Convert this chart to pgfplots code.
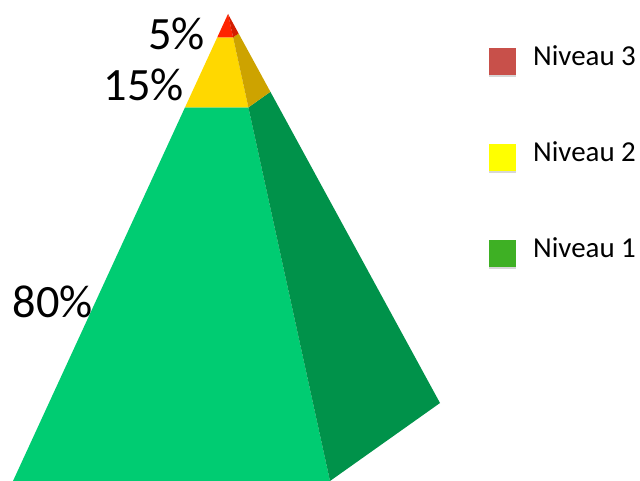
\documentclass[border=0pt]{standalone}
\usepackage{pgfplots}
\pgfplotsset{compat=1.18}
\usepackage{fontspec}
\setmainfont{Carlito}
\definecolor{gfront}{RGB}{0,204,114}
\definecolor{gside}{RGB}{0,146,74}
\definecolor{yfront}{RGB}{255,216,0}
\definecolor{yside}{RGB}{205,163,0}
\definecolor{rfront}{RGB}{255,36,0}
\definecolor{rside}{RGB}{212,30,0}
\definecolor{legr}{RGB}{200,80,74}
\definecolor{legy}{RGB}{255,255,0}
\definecolor{legg}{RGB}{62,176,36}
\definecolor{shad}{RGB}{215,215,215}
\begin{document}
\begin{tikzpicture}
\begin{axis}[x=1bp,y=1bp,xmin=0,xmax=640,ymin=0,ymax=481,y dir=reverse,
  hide axis,clip=false,scale only axis]
\path (axis cs:0,0) rectangle (axis cs:640,481);
% Niveau 1 (80%)
\addplot[fill=gfront,draw=none] coordinates {(185.00,107.40) (13,481) (330,481) (248.40,107.40)} -- cycle;
\addplot[fill=gside,draw=none] coordinates {(248.40,107.40) (330,481) (440,403) (270.40,91.80)} -- cycle;
% Niveau 2 (15%)
\addplot[fill=yfront,draw=none] coordinates {(217.25,37.35) (185.00,107.40) (248.40,107.40) (233.10,37.35)} -- cycle;
\addplot[fill=yside,draw=none] coordinates {(233.10,37.35) (248.40,107.40) (270.40,91.80) (238.60,33.45)} -- cycle;
% Niveau 3 (5%)
\addplot[fill=rfront,draw=none] coordinates {(228,14) (217.25,37.35) (233.10,37.35)} -- cycle;
\addplot[fill=rside,draw=none] coordinates {(228,14) (233.10,37.35) (238.60,33.45)} -- cycle;
% labels
\node[anchor=east,inner sep=0pt,font=\fontsize{46.5}{54}\selectfont] at (axis cs:205,34) {5\%};
\node[anchor=east,inner sep=0pt,font=\fontsize{46.5}{54}\selectfont] at (axis cs:184,85) {15\%};
\node[anchor=east,inner sep=0pt,font=\fontsize{46.5}{54}\selectfont] at (axis cs:93,302) {80\%};
% legend
\addplot[only marks,color=shad,mark=square*,mark size=13bp] coordinates {(502,63) (502,159) (502,255)};
\addplot[only marks,color=legr,mark=square*,mark size=13bp] coordinates {(502,61)};
\addplot[only marks,color=legy,mark=square*,mark size=13bp] coordinates {(502,157)};
\addplot[only marks,color=legg,mark=square*,mark size=13bp] coordinates {(502,253)};
\node[anchor=west,inner sep=0pt,font=\fontsize{29}{34}\selectfont] at (axis cs:533,56) {Niveau 3};
\node[anchor=west,inner sep=0pt,font=\fontsize{29}{34}\selectfont] at (axis cs:533,152) {Niveau 2};
\node[anchor=west,inner sep=0pt,font=\fontsize{29}{34}\selectfont] at (axis cs:533,248) {Niveau 1};
\end{axis}
\end{tikzpicture}
\end{document}
